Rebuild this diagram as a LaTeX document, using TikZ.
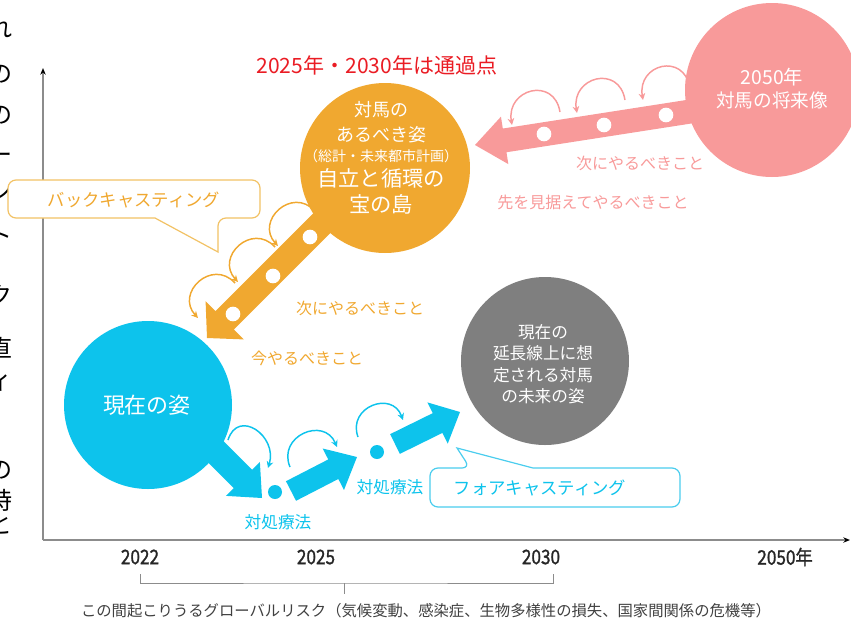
\documentclass[tikz,border=0pt]{standalone}
\usepackage{fontspec}
\setmainfont{Noto Sans CJK JP}
\newfontfamily\yearfont[FakeStretch=0.86,FakeBold=1.2]{Noto Sans CJK JP}
\usetikzlibrary{calc,arrows.meta}
\definecolor{orng}{HTML}{F0A830}
\definecolor{pnk}{HTML}{F89A9A}
\definecolor{blu}{HTML}{0DC3EC}
\definecolor{gry}{HTML}{7F7F7F}
\definecolor{redt}{HTML}{EA1C24}
\definecolor{axisc}{HTML}{8C8C8C}
\definecolor{txtd}{HTML}{262626}
\definecolor{capc}{HTML}{404040}
\definecolor{ocall}{HTML}{F2C265}
\definecolor{bcall}{HTML}{4ACDEE}
\newcommand{\fs}[1]{\fontsize{#1}{#1}\selectfont}
% #1 style, #2 start, #3 tip, #4 half shaft, #5 half head, #6 head length
\newcommand{\blkarrow}[6]{%
  \path ($(#3)!#6!(#2)$) coordinate (ba);
  \fill[#1] ($(#2)!#4!90:(#3)$) -- ($(ba)!#4!-90:(#2)$) -- ($(ba)!#5!-90:(#2)$) -- (#3) -- ($(ba)!#5!90:(#2)$) -- ($(ba)!#4!90:(#2)$) -- ($(#2)!#4!-90:(#3)$) -- cycle;}
\begin{document}
\begin{tikzpicture}[x=0.75pt,y=-0.75pt,
  lbl/.style={inner sep=0pt, anchor=center},
  dotw/.style={circle, fill=white, inner sep=0pt, minimum size=11pt},
  dotb/.style={circle, fill=blu, inner sep=0pt, minimum size=10.5pt},
  bigc/.style={circle, inner sep=0pt},
  oloop/.style={draw=orng, line width=1.1pt, -{Stealth[length=5pt,width=5pt]}},
  ploop/.style={draw=pnk, line width=1.1pt, -{Stealth[length=5pt,width=5pt]}},
  bloop/.style={draw=blu, line width=1.1pt, -{Stealth[length=5pt,width=5pt]}},
  axisline/.style={draw=axisc, line width=0.9pt, -{Stealth[length=5pt,width=4pt,color=black]}}]
\useasboundingbox (0,0) rectangle (851,622);
\clip (0,0) rectangle (851,622);

% clipped vertical text column at the left edge
\foreach \ch/\yy in {れ/28,の/74,の/115,ー/158,ン/192,ト/236,ク/295,直/348,ィ/383,の/470,時/500,と/524}
  \node[lbl] at (0,\yy) {\fs{18}\ch};

% axes
\coordinate (org) at (43,540);
\coordinate (ytop) at (43,68);
\coordinate (xend) at (850,540);
\draw[axisline] (org) -- (ytop);
\draw[axisline] (org) -- (xend);

% year labels
\node[lbl,text=txtd] (y22) at (140,557) {\yearfont\fs{15}2022};
\node[lbl,text=txtd] (y25) at (316,557) {\yearfont\fs{15}2025};
\node[lbl,text=txtd] (y30) at (541,557) {\yearfont\fs{15}2030};
\node[lbl,text=txtd] (y50) at (785,557) {\yearfont\fs{15}2050年};

% bracket
\coordinate (brl) at (140,574);
\coordinate (brr) at (553,574);
\coordinate (brm) at (344,583);
\coordinate (brt) at (344,594);
\draw[axisc, line width=0.7pt] (brl) |- (brm) -| (brr);
\draw[axisc, line width=0.7pt] (brm) -- (brt);
\node[lbl,text=capc] (cap) at (426,611) {\fs{11.5}この間起こりうるグローバルリスク（気候変動、感染症、生物多様性の損失、国家間関係の危機等）};

% title
\node[lbl,text=redt] (ttl) at (377,65) {\fs{15.8}2025年・2030年は通過点};

% backcasting callout
\draw[ocall, fill=white, line width=0.9pt] (218,218) -- (218,252) -- (155,218) [rounded corners=6pt] -- (8,218) -- (8,180) -- (260,180) -- (260,218) -- cycle;
\node[lbl,text=orng] (bc) at (134,200) {\fs{13}バックキャスティング};

% forecasting callout
\draw[bcall, fill=white, line width=0.9pt] (470,468) -- (457,448) -- (533,468) [rounded corners=6pt] -- (680,468) -- (680,507) -- (430,507) -- (430,468) -- cycle;
\node[lbl,text=blu] (fc) at (540,488) {\fs{13}フォアキャスティング};

% ===== pink (2050) =====
\coordinate (ps) at (700,110);
\coordinate (pt) at (475,145);
\blkarrow{pnk}{ps}{pt}{9pt}{18pt}{22.5pt}
\node[bigc, fill=pnk, minimum size=130.5pt] (pc) at (772,90) {};
\node[lbl,text=white] (pc1) at (772,77) {\fs{14.5}2050年};
\node[lbl,text=white] (pc2) at (772,100) {\fs{14}対馬の将来像};
\node[dotw] (pd1) at (544,134) {};
\node[dotw] (pd2) at (604,125) {};
\node[dotw] (pd3) at (666,115) {};
\coordinate (pa1s) at (560,112); \coordinate (pa1e) at (512,125);
\coordinate (pa2s) at (625,100); \coordinate (pa2e) at (577,113);
\coordinate (pa3s) at (690,88);  \coordinate (pa3e) at (643,100);
\foreach \i in {1,2,3}
  \draw[ploop] (pa\i s) .. controls ($(pa\i s)+(-6,-36)$) and ($(pa\i e)+(-6,-36)$) .. (pa\i e);
\node[lbl,text=pnk] (pt1) at (640,163) {\fs{12}次にやるべきこと};
\node[lbl,text=pnk] (pt2) at (593,202) {\fs{12}先を見据えてやるべきこと};

% ===== orange (ideal) =====
\coordinate (os) at (345,200);
\coordinate (ot) at (207,338);
\blkarrow{orng}{os}{ot}{9.75pt}{20.25pt}{18.75pt}
\node[bigc, fill=orng, minimum size=127.5pt] (oc) at (385,168) {};
\node[lbl,text=white] (oc1) at (381,110) {\fs{13.5}対馬の};
\node[lbl,text=white] (oc2) at (381,135) {\fs{13.5}あるべき姿};
\node[lbl,text=white] (oc3) at (381,156) {\fs{10.5}（総計・未来都市計画）};
\node[lbl,text=white] (oc4) at (381,178) {\fs{16}自立と循環の};
\node[lbl,text=white] (oc5) at (381,204) {\fs{16}宝の島};
\node[dotw] (od1) at (310,237) {};
\node[dotw] (od2) at (273,276) {};
\node[dotw] (od3) at (233,314) {};
\coordinate (oa1s) at (315,211); \coordinate (oa1e) at (278,246);
\coordinate (oa2s) at (275,247); \coordinate (oa2e) at (238,282);
\coordinate (oa3s) at (235,283); \coordinate (oa3e) at (198,318);
\foreach \i in {1,2,3}
  \draw[oloop] (oa\i s) .. controls ($(oa\i s)+(-23,-25)$) and ($(oa\i e)+(-23,-25)$) .. (oa\i e);
\node[lbl,text=orng] (ot1) at (360,308) {\fs{12}次にやるべきこと};
\node[lbl,text=orng] (ot2) at (307,358) {\fs{12}今やるべきこと};

% ===== gray (extension) =====
\node[bigc, fill=gry, minimum size=126pt] (gc) at (545,361) {};
\node[lbl,text=white] (gc1) at (543,332) {\fs{12.5}現在の};
\node[lbl,text=white] (gc2) at (543,353) {\fs{12.5}延長線上に想};
\node[lbl,text=white] (gc3) at (543,375) {\fs{12.5}定される対馬};
\node[lbl,text=white] (gc4) at (543,396) {\fs{12.5}の未来の姿};

% ===== blue (present) =====
\coordinate (b1s) at (195,431);
\coordinate (b1t) at (262,498);
\blkarrow{blu}{b1s}{b1t}{9.75pt}{18pt}{20.25pt}
\node[bigc, fill=blu, minimum size=126pt] (bc0) at (148,405) {};
\node[lbl,text=white] (bct) at (147,405) {\fs{16.5}現在の姿};
\node[dotb] (bd1) at (275,492) {};
\coordinate (b2s) at (291,491);
\coordinate (b2t) at (357,457);
\blkarrow{blu}{b2s}{b2t}{8.25pt}{17.5pt}{20pt}
\node[dotb] (bd2) at (377,452) {};
\coordinate (b3s) at (395,444);
\coordinate (b3t) at (460,412);
\blkarrow{blu}{b3s}{b3t}{8.25pt}{17.25pt}{18.75pt}
\coordinate (ba1s) at (228,440); \coordinate (ba1e) at (268,468);
\coordinate (ba2s) at (290,467); \coordinate (ba2e) at (337,447);
\coordinate (ba3s) at (358,437); \coordinate (ba3e) at (403,420);
\draw[bloop] (ba1s) .. controls ($(ba1s)+(10,-32)$) and ($(ba1e)+(10,-32)$) .. (ba1e);
\draw[bloop] (ba2s) .. controls ($(ba2s)+(-13,-31)$) and ($(ba2e)+(-13,-31)$) .. (ba2e);
\draw[bloop] (ba3s) .. controls ($(ba3s)+(-11,-30)$) and ($(ba3e)+(-11,-30)$) .. (ba3e);
\node[lbl,text=blu] (bt1) at (278,522) {\fs{12.5}対処療法};
\node[lbl,text=blu] (bt2) at (390,487) {\fs{12.5}対処療法};
\end{tikzpicture}
\end{document}
